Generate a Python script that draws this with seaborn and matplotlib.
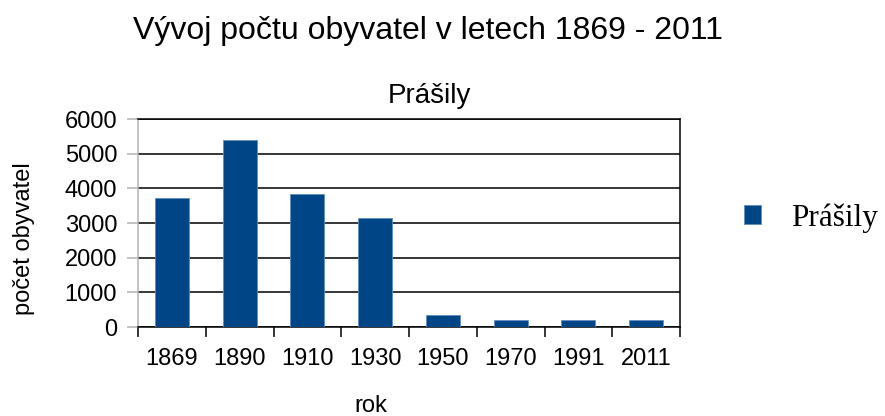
import matplotlib
matplotlib.use("Agg")
import matplotlib.pyplot as plt
import numpy as np
import seaborn as sns
from matplotlib.ticker import FixedLocator

# data
roky = ["1869", "1890", "1910", "1930", "1950", "1970", "1991", "2011"]
obyvatele = [3710, 5390, 3840, 3140, 360, 195, 190, 195]
nazev = "Prášily"

modra = "#004586"

sns.set_style("ticks")
plt.rcParams["font.family"] = ["Liberation Sans", "DejaVu Sans"]
plt.rcParams["text.color"] = "black"
plt.rcParams["axes.labelcolor"] = "black"

fig = plt.figure(figsize=(8.85, 4.16), dpi=100)
ax = fig.add_axes([138/885, 1 - 327/416, (680-138)/885, (327-119)/416])

sns.barplot(x=roky, y=obyvatele, color=modra, saturation=1, width=0.5,
            edgecolor="#5f8fbf", linewidth=0.6, label=nazev, ax=ax, zorder=3)

ax.set_xlim(-0.5, len(roky) - 0.5)
ax.set_ylim(0, 6000)
ax.set_yticks(np.arange(0, 6001, 1000))
ax.yaxis.grid(True, color="black", linewidth=1.1, zorder=0)
ax.set_axisbelow(True)

for s in ["top", "right", "bottom"]:
    ax.spines[s].set_visible(True)
    ax.spines[s].set_color("black")
    ax.spines[s].set_linewidth(1.1)
ax.spines["left"].set_color("#b3b3b3")
ax.spines["left"].set_linewidth(1.1)

# kategorie: popisky uprostred, carky na hranicich
ax.xaxis.set_minor_locator(FixedLocator(np.arange(-0.5, len(roky), 1.0)))
ax.tick_params(axis="x", which="major", length=0, pad=15, labelsize=17, labelcolor="black")
ax.tick_params(axis="x", which="minor", length=7.5, width=1.1, color="black", direction="out")
ax.tick_params(axis="y", length=8, width=1.1, color="#b3b3b3", pad=7, labelsize=17,
               labelcolor="black")

ax.set_xlabel("rok", fontsize=17)
ax.xaxis.set_label_coords((371-138)/542, (327-395)/208)
ax.set_ylabel("počet obyvatel", fontsize=17)
ax.yaxis.set_label_coords((35-138)/542, (327-239)/208)

fig.text(428/885, 1 - 39/416, "Vývoj počtu obyvatel v letech 1869 - 2011",
         ha="center", va="baseline", fontsize=23)
fig.text(429/885, 1 - 103/416, nazev, ha="center", va="baseline", fontsize=20)

leg = ax.legend(loc="center left", bbox_to_anchor=(744/885, 1 - 218/416),
                bbox_transform=fig.transFigure, frameon=False,
                handlelength=0.55, handleheight=0.55, handletextpad=0.95,
                borderaxespad=0, borderpad=0,
                prop={"family": "Liberation Serif", "size": 22.5})

fig.savefig("out.png", dpi=100)
